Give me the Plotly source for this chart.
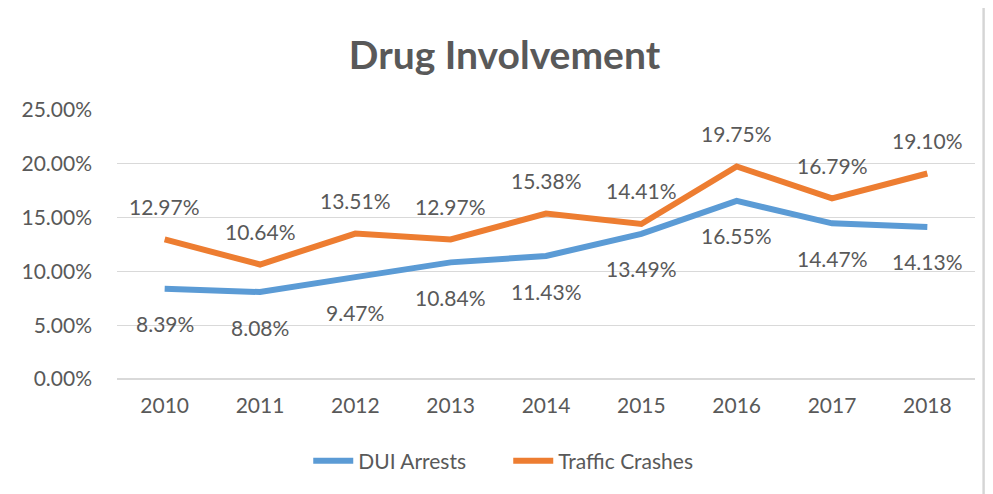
import plotly.graph_objects as go

years = ["2010", "2011", "2012", "2013", "2014", "2015", "2016", "2017", "2018"]
dui_arrests = [8.39, 8.08, 9.47, 10.84, 11.43, 13.49, 16.55, 14.47, 14.13]
traffic_crashes = [12.97, 10.64, 13.51, 12.97, 15.38, 14.41, 19.75, 16.79, 19.10]
y_ticks = [0, 5, 10, 15, 20, 25]
y_tick_labels = ["0.00%", "5.00%", "10.00%", "15.00%", "20.00%", "25.00%"]

BLUE = "#5b9bd5"
ORANGE = "#ed7d31"
TXT = "#595959"
FONT = "Lato"
FS = 21

fig = go.Figure()
fig.add_trace(go.Scatter(x=years, y=dui_arrests, mode="lines", name="DUI Arrests",
                         line=dict(color=BLUE, width=6)))
fig.add_trace(go.Scatter(x=years, y=traffic_crashes, mode="lines", name="Traffic Crashes",
                         line=dict(color=ORANGE, width=6)))

annotations = []
for i, v in enumerate(traffic_crashes):
    annotations.append(dict(x=i, y=v, xref="x", yref="y", text=f"{v:.2f}%", showarrow=False,
                            yshift=33, font=dict(size=FS, color=TXT, family=FONT)))
for i, v in enumerate(dui_arrests):
    annotations.append(dict(x=i, y=v, xref="x", yref="y", text=f"{v:.2f}%", showarrow=False,
                            yshift=-35, font=dict(size=FS, color=TXT, family=FONT)))

fig.update_layout(
    width=993, height=494,
    paper_bgcolor="#dcdcdc",
    plot_bgcolor="rgba(0,0,0,0)",
    margin=dict(l=109, r=26, t=102, b=123),
    title=dict(text="<b>Drug Involvement</b>", x=0.5, xanchor="center", y=0.905, yanchor="middle",
               font=dict(size=39, color=TXT, family=FONT)),
    font=dict(family=FONT, color=TXT, size=FS),
    showlegend=True,
    legend=dict(orientation="h", x=0.456, xanchor="center", y=-0.305, yanchor="middle",
                font=dict(size=FS, color=TXT, family=FONT), bgcolor="rgba(0,0,0,0)",
                itemwidth=40, entrywidth=145),
    annotations=annotations,
    shapes=[dict(type="rect", xref="paper", yref="paper", x0=-0.2, x1=1.0093, y0=-0.7, y1=1.6,
                 fillcolor="white", line=dict(color="#cfcfcf", width=1), layer="below")],
    xaxis=dict(type="category", showgrid=False, showline=False, ticks="",
               tickfont=dict(size=FS, color=TXT), range=[-0.5, 8.5], ticklabelstandoff=12),
    yaxis=dict(range=[0, 25], tickvals=y_ticks, ticktext=y_tick_labels, showgrid=True,
               gridcolor="#d9d9d9", gridwidth=1, zeroline=True, zerolinecolor="#d9d9d9",
               showline=False, ticks="", ticklabelstandoff=24, tickfont=dict(size=FS, color=TXT)),
)

fig.write_html("out.html")
